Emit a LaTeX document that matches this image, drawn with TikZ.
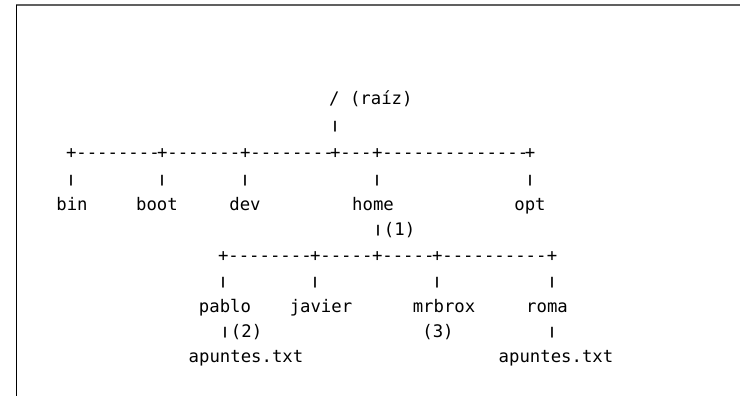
\documentclass[tikz,border=0pt]{standalone}
\usepackage{fontspec}
\newfontfamily\mono{DejaVu Sans Mono}
% short vertical bar, as the tree's branch mark
\newcommand\vbar{\raisebox{0.11em}{\scalebox{1.15}[0.62]{|}}}
\begin{document}
\begin{tikzpicture}[x=1pt,y=-1pt,
  txt/.style={inner sep=0pt, font=\mono\fontsize{17.3}{20}\selectfont, anchor=mid},
  seg/.style={txt, anchor=mid west}]
\useasboundingbox (0,0) rectangle (740,396);
% frame
\draw[line width=2pt, gray!75!black] (16,5.5) -- (740,5.5);
\draw[line width=1.2pt, black] (16.6,5) -- (16.6,396);

\begin{scope}[yshift=-3.5pt]
% root
\node[seg] (root) at (329,99) {/ (raíz)};
\node[txt] (rbar) at (335,126) {\vbar};

% first level branch line
\node[seg] (a1) at (65.8,153) {+--------};
\node[seg] (a2) at (156.8,153) {+-------};
\node[seg] (a3) at (239.8,153) {+--------};
\node[seg] (a4) at (329.8,153) {+---};
\node[seg] (a5) at (371.8,153) {+--------------};
\node[txt] (a6) at (530,153) {+};

\node[txt] (b1) at (71,180) {\vbar};
\node[txt] (b2) at (162,180) {\vbar};
\node[txt] (b3) at (245,180) {\vbar};
\node[txt] (b4) at (377,180) {\vbar};
\node[txt] (b5) at (530,180) {\vbar};

\node[txt] (bin)  at (72,205) {bin};
\node[txt] (boot) at (157,205) {boot};
\node[txt] (dev)  at (245,205) {dev};
\node[txt] (home) at (373,205) {home};
\node[txt] (opt)  at (530,205) {opt};

\node[seg] (h1) at (371.8,230) {\vbar(1)};

% second level branch line
\node[seg] (c1) at (217.8,256) {+--------};
\node[seg] (c2) at (309.8,256) {+-----};
\node[seg] (c3) at (371.8,256) {+-----};
\node[seg] (c4) at (431.8,256) {+----------};
\node[txt] (c5) at (552,256) {+};

\node[txt] (d1) at (223,282) {\vbar};
\node[txt] (d2) at (315,282) {\vbar};
\node[txt] (d3) at (437,282) {\vbar};
\node[txt] (d4) at (552,282) {\vbar};

\node[txt] (pablo)  at (225,307) {pablo};
\node[txt] (javier) at (321,307) {javier};
\node[txt] (mrbrox) at (444,307) {mrbrox};
\node[txt] (roma)   at (547,307) {roma};

\node[seg] (p2) at (218.8,332) {\vbar(2)};
\node[txt] (m3) at (438,332) {(3)};
\node[txt] (r1) at (552,332) {\vbar};

\node[txt] (f1) at (246,357) {apuntes.txt};
\node[txt] (f2) at (556,357) {apuntes.txt};
\end{scope}
\end{tikzpicture}
\end{document}
